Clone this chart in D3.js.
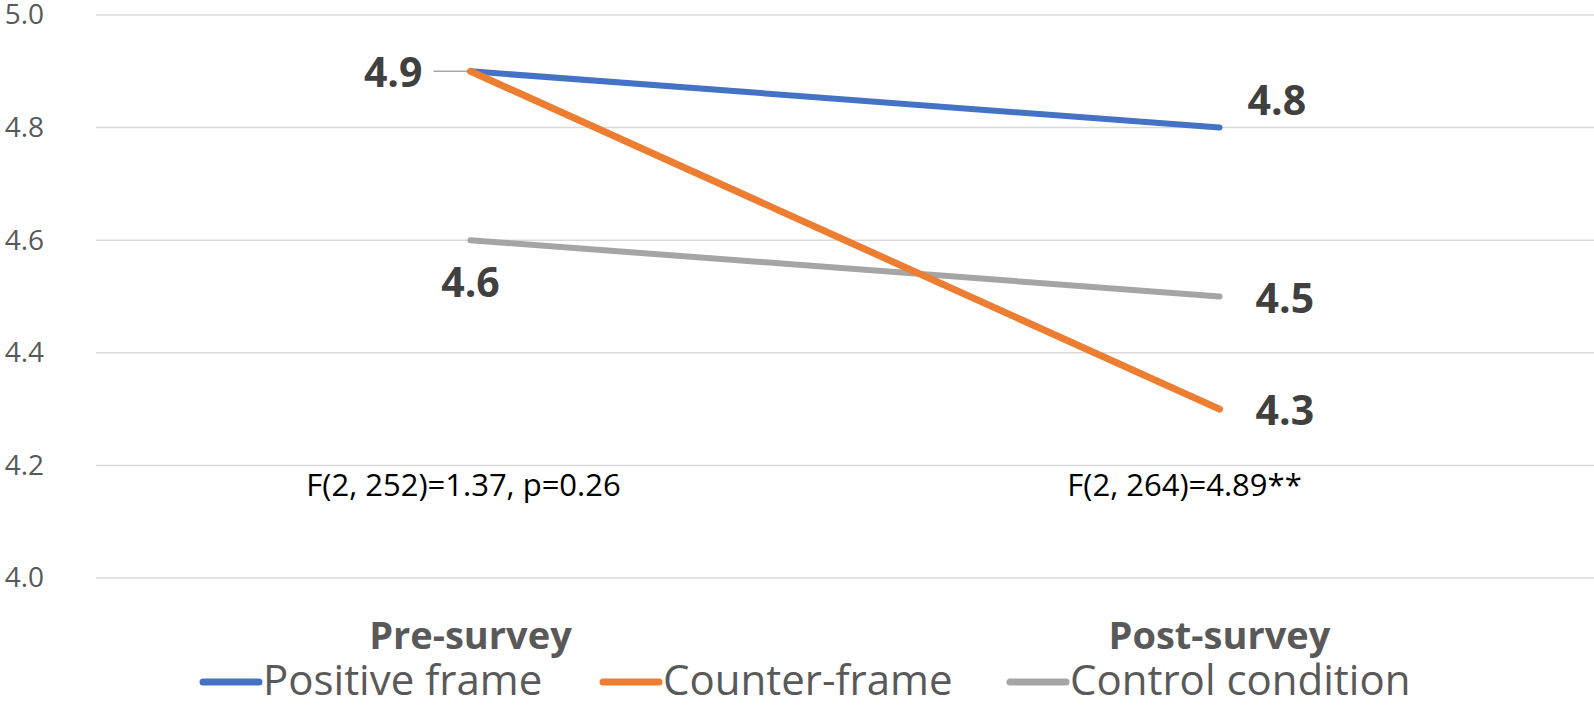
<!DOCTYPE html>
<html>
<head>
<meta charset="utf-8">
<script src="https://cdn.jsdelivr.net/npm/d3@7"></script>
<style>
  body { margin: 0; background: #fff; }
  svg { display: block; font-family: "Open Sans", sans-serif; }
</style>
</head>
<body>
<div id="chart"></div>
<script>
const categories = ["Pre-survey", "Post-survey"];
const positiveFrame = [4.9, 4.8];
const counterFrame = [4.9, 4.3];
const controlCondition = [4.6, 4.5];
const seriesNames = ["Positive frame", "Counter-frame", "Control condition"];
const yTicks = [4.0, 4.2, 4.4, 4.6, 4.8, 5.0];
const fTests = ["F(2, 252)=1.37, p=0.26", "F(2, 264)=4.89**"];

const width = 1594, height = 706;

const svg = d3.select("#chart")
    .append("svg")
    .attr("width", width)
    .attr("height", height);

const x = d3.scalePoint()
    .domain(categories)
    .range([96, 1594])
    .padding(0.5);

const y = d3.scaleLinear()
    .domain([4, 5])
    .range([578, 15]);

// gridlines
svg.append("g")
    .selectAll("line")
    .data(yTicks)
    .join("line")
    .attr("x1", 96)
    .attr("x2", width)
    .attr("y1", d => y(d))
    .attr("y2", d => y(d))
    .attr("stroke", "#d9d9d9")
    .attr("stroke-width", 1.5);

// y axis labels
const yAxis = svg.append("g")
    .attr("transform", "translate(44,0)")
    .call(d3.axisLeft(y).tickValues(yTicks).tickFormat(d3.format(".1f")).tickSize(0).tickPadding(0));
yAxis.select(".domain").remove();
yAxis.selectAll("text")
    .attr("font-family", "Open Sans")
    .attr("font-size", 28)
    .attr("fill", "#595959");

// category labels
svg.append("g")
    .selectAll("text")
    .data(categories)
    .join("text")
    .attr("x", d => x(d))
    .attr("y", 649)
    .attr("text-anchor", "middle")
    .attr("font-size", 38)
    .attr("font-weight", "bold")
    .attr("fill", "#595959")
    .text(d => d);

// F-test notes
svg.append("g")
    .selectAll("text")
    .data(fTests)
    .join("text")
    .attr("x", (d, i) => x(categories[i]) + (i === 0 ? -7 : -35))
    .attr("y", 496)
    .attr("text-anchor", "middle")
    .attr("font-size", 31)
    .attr("fill", "#000")
    .text(d => d);

const series = [
  {name: seriesNames[0], values: positiveFrame, color: "#4472C4", w: 6},
  {name: seriesNames[1], values: counterFrame, color: "#ED7D31", w: 7},
  {name: seriesNames[2], values: controlCondition, color: "#A5A5A5", w: 6}
];

// leader line for the 4.9 label
svg.append("line")
    .attr("x1", x(categories[0]) - 37)
    .attr("x2", x(categories[0]))
    .attr("y1", y(positiveFrame[0]))
    .attr("y2", y(positiveFrame[0]))
    .attr("stroke", "#a6a6a6")
    .attr("stroke-width", 1.5);

const line = d3.line()
    .x((d, i) => x(categories[i]))
    .y(d => y(d));

// draw order: gray, blue, orange on top
[series[2], series[0], series[1]].forEach(s => {
  svg.append("path")
      .datum(s.values)
      .attr("fill", "none")
      .attr("stroke", s.color)
      .attr("stroke-width", s.w)
      .attr("stroke-linecap", "round")
      .attr("d", line);
});

// data labels: [series index, category index, dx, dy, anchor]
const labelSpots = [
  [0, 0, -48, 1, "end"],
  [0, 1, 28, -27, "start"],
  [1, 1, 36, 2, "start"],
  [2, 0, 0, 42, "middle"],
  [2, 1, 36, 2, "start"]
];

svg.append("g")
    .selectAll("text")
    .data(labelSpots)
    .join("text")
    .attr("x", d => x(categories[d[1]]) + d[2])
    .attr("y", d => y(series[d[0]].values[d[1]]) + d[3])
    .attr("dy", "0.35em")
    .attr("text-anchor", d => d[4])
    .attr("font-size", 41)
    .attr("font-weight", "bold")
    .attr("fill", "#404040")
    .text(d => d3.format(".1f")(series[d[0]].values[d[1]]));

// legend
const legendX = [203, 603, 1010];
const legend = svg.append("g")
    .selectAll("g")
    .data(series)
    .join("g")
    .attr("transform", (d, i) => `translate(${legendX[i]},0)`);

legend.append("line")
    .attr("x1", 0)
    .attr("x2", 56)
    .attr("y1", 682)
    .attr("y2", 682)
    .attr("stroke", d => d.color)
    .attr("stroke-width", 7)
    .attr("stroke-linecap", "round");

legend.append("text")
    .attr("x", 60)
    .attr("y", 695)
    .attr("font-size", 42)
    .attr("fill", "#595959")
    .text(d => d.name);
</script>
</body>
</html>
